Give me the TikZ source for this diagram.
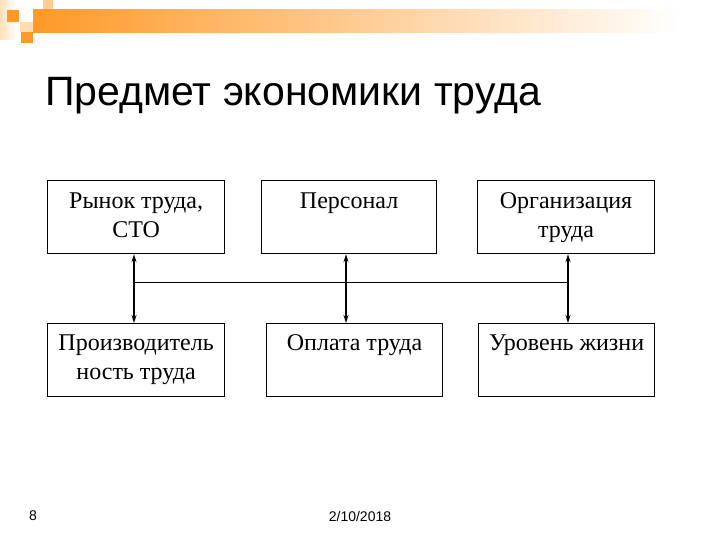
\documentclass[tikz,border=0pt]{standalone}
\usepackage{fontspec}
\setmainfont{Liberation Serif}
\newfontfamily\titlefont{Liberation Sans}
\usetikzlibrary{arrows.meta}
\definecolor{orng}{RGB}{255,153,40}
\definecolor{palorng}{RGB}{255,205,140}
\begin{document}
\begin{tikzpicture}[x=1pt,y=-1pt,
  box/.style={draw=black, line width=1.2pt, anchor=north west, inner sep=0pt, minimum height=73pt},
  lbl/.style={anchor=base, align=center, inner sep=0pt, font=\fontsize{24}{29}\selectfont},
  conn/.style={line width=2pt, {Stealth[length=8pt,width=5pt]}-{Stealth[length=8pt,width=5pt]}},
  foot/.style={font=\titlefont\fontsize{14}{16}\selectfont, inner sep=0pt}]
\useasboundingbox (0,0) rectangle (720,540);
% header decoration
\shade[left color=palorng!60, right color=white] (0,0) rectangle (16,40);
\fill[palorng] (43,0) rectangle (53,9);
\fill[palorng!70] (20,22) rectangle (33,32);
\shade[left color=orng, right color=white] (33,10) rectangle (680,33);
\fill[orng] (7,10) rectangle (19,22);
\fill[orng] (21,32) rectangle (33,43);
% title
\node[anchor=base west, inner sep=0pt, font=\titlefont\fontsize{41}{48}\selectfont] (title) at (45,106) {Предмет экономики труда};
% boxes
\node[box, minimum width=177pt] (b1) at (47,180) {};
\node[box, minimum width=175pt] (b2) at (261,180) {};
\node[box, minimum width=177pt] (b3) at (477,180) {};
\node[box, minimum width=177pt] (b4) at (47,323) {};
\node[box, minimum width=176pt] (b5) at (266,323) {};
\node[box, minimum width=176pt] (b6) at (478,323) {};
% labels (base anchor = last line's baseline)
\node[lbl] (t1) at ([yshift=-57pt]b1.north) {Рынок труда,\\СТО};
\node[lbl] (t2) at ([yshift=-28pt]b2.north) {Персонал};
\node[lbl] (t3) at ([yshift=-57pt]b3.north) {Организация\\труда};
\node[lbl] (t4) at ([yshift=-56pt]b4.north) {Производитель\\ность труда};
\node[lbl] (t5) at ([yshift=-27pt]b5.north) {Оплата труда};
\node[lbl] (t6) at ([yshift=-27pt]b6.north) {Уровень жизни};
% connectors
\coordinate (a1) at (134,282);
\coordinate (a2) at (346,282);
\coordinate (a3) at (568,282);
\draw[line width=1pt] (a1) -- (a3);
\draw[conn] (b1.south -| a1) -- (b4.north -| a1);
\draw[conn] (b2.south -| a2) -- (b5.north -| a2);
\draw[conn] (b3.south -| a3) -- (b6.north -| a3);
% footer
\node[foot] (pg) at (33,516) {8};
\node[foot] (dt) at (360,516) {2/10/2018};
\end{tikzpicture}
\end{document}
